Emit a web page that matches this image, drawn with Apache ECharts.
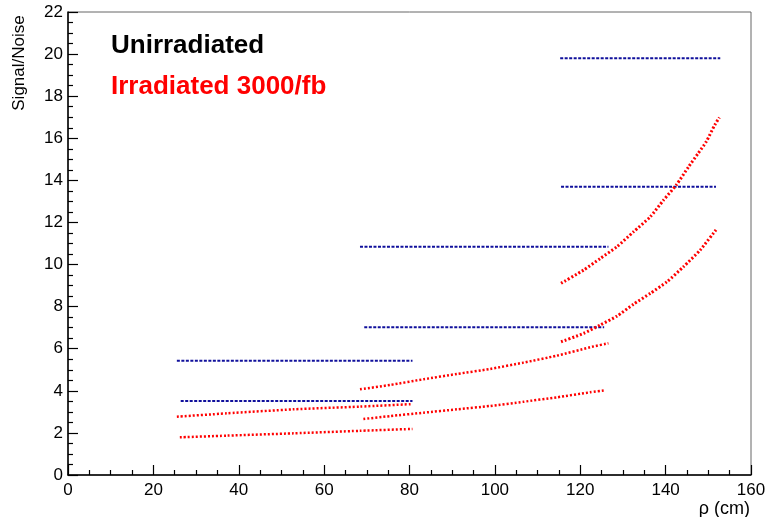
<!DOCTYPE html>
<html>
<head>
<meta charset="UTF-8">
<title>Signal/Noise vs rho</title>
<script src="https://cdn.jsdelivr.net/npm/echarts@6/dist/echarts.min.js"></script>
<style>
  html, body { margin: 0; padding: 0; background: #fff; }
  #chart { width: 766px; height: 517px; }
</style>
</head>
<body>
<div id="chart"></div>
<script>
// unirradiated: flat S/N per layer (level, rho start, rho end)
const blueLevels = [19.8, 13.7, 10.85, 7.02, 5.43, 3.52];
const blueStart = [115.3, 115.5, 68.4, 69.4, 25.5, 26.4];
const blueEnd = [152.8, 151.8, 126.6, 125.6, 80.7, 80.7];

// irradiated 3000/fb [rho, S/N]
const curveA = [[26.2, 1.79], [37.2, 1.87], [52.8, 1.98], [68.4, 2.10], [80.7, 2.19]];
const curveB = [[25.5, 2.77], [37.2, 2.93], [52.8, 3.12], [68.4, 3.25], [80.7, 3.37]];
const curveC = [[69.2, 2.66], [75.5, 2.80], [83.3, 2.96], [91.1, 3.12], [98.9, 3.28],
  [106.7, 3.48], [114.5, 3.69], [122.3, 3.93], [125.6, 4.02]];
const curveD = [[68.4, 4.07], [75.5, 4.28], [83.3, 4.55], [91.1, 4.80], [98.9, 5.04],
  [106.7, 5.34], [114.5, 5.67], [122.3, 6.07], [126.6, 6.26]];
const curveE = [[115.5, 6.33], [120.8, 6.73], [124.7, 7.13], [128.6, 7.55], [132.5, 8.12],
  [136.4, 8.63], [140.3, 9.18], [144.2, 9.90], [148.1, 10.69], [151.8, 11.65]];
const curveF = [[115.5, 9.11], [120.8, 9.74], [124.7, 10.29], [128.6, 10.85], [132.5, 11.56],
  [136.4, 12.27], [139.5, 13.06], [142.5, 13.78], [145.4, 14.65], [147.6, 15.28],
  [149.5, 15.83], [151.5, 16.63], [152.6, 16.99]];

const BLUE = '#10109c';
const RED = '#ff0000';
const FONT = '"Liberation Sans", Arial, Helvetica, sans-serif';

const chart = echarts.init(document.getElementById('chart'));

const series = [];

// blue horizontal lines first so red sits on top
blueLevels.forEach((lvl, i) => {
  series.push({
    type: 'line',
    data: [[blueStart[i], lvl], [blueEnd[i], lvl]],
    symbol: 'none',
    lineStyle: { color: BLUE, width: 2, type: [3, 1.5] },
    z: 2
  });
});

[curveA, curveB, curveC, curveD, curveE, curveF].forEach((c, i) => {
  series.push({
    type: 'line',
    data: c,
    symbol: 'none',
    smooth: 0.2,
    lineStyle: { color: RED, width: i >= 4 ? 3 : 2.5, type: [2, 2] },
    z: 3
  });
});

const axisCommon = {
  type: 'value',
  axisLine: { show: true, lineStyle: { color: '#000', width: 1.5 } },
  axisTick: { show: true, inside: true, length: 10, lineStyle: { color: '#000', width: 1.2 } },
  minorTick: { show: true, splitNumber: 4, length: 5, lineStyle: { color: '#000', width: 1.2 } },
  splitLine: { show: false },
  axisLabel: { color: '#000', fontSize: 17, fontFamily: FONT }
};

const option = {
  animation: false,
  backgroundColor: '#fff',
  grid: {
    left: 68, right: 15, top: 12, bottom: 42,
    containLabel: false,
    outerBoundsMode: 'none',
    show: true,
    borderColor: '#666',
    borderWidth: 1
  },
  xAxis: Object.assign({}, axisCommon, {
    min: 0, max: 160, interval: 20,
    axisLabel: Object.assign({}, axisCommon.axisLabel, { margin: 7 })
  }),
  yAxis: Object.assign({}, axisCommon, {
    min: 0, max: 22, interval: 2,
    axisLabel: Object.assign({}, axisCommon.axisLabel, { margin: 5 })
  }),
  series: series,
  graphic: [
    {
      type: 'text', x: 111, y: 33, z: 10,
      style: { text: 'Unirradiated', fill: '#000', font: 'bold 26px ' + FONT, align: 'left', verticalAlign: 'top' }
    },
    {
      type: 'text', x: 111, y: 74, z: 10,
      style: { text: 'Irradiated 3000/fb', fill: RED, font: 'bold 26px ' + FONT, align: 'left', verticalAlign: 'top' }
    },
    {
      type: 'text', x: 19, y: 63, rotation: Math.PI / 2, z: 10,
      style: { text: 'Signal/Noise', fill: '#000', font: '17px ' + FONT, align: 'center', verticalAlign: 'middle' }
    },
    {
      type: 'text', x: 750, y: 500, z: 10,
      style: { text: 'ρ (cm)', fill: '#000', font: '18px ' + FONT, align: 'right', verticalAlign: 'top' }
    }
  ]
};

chart.setOption(option);
</script>
</body>
</html>
